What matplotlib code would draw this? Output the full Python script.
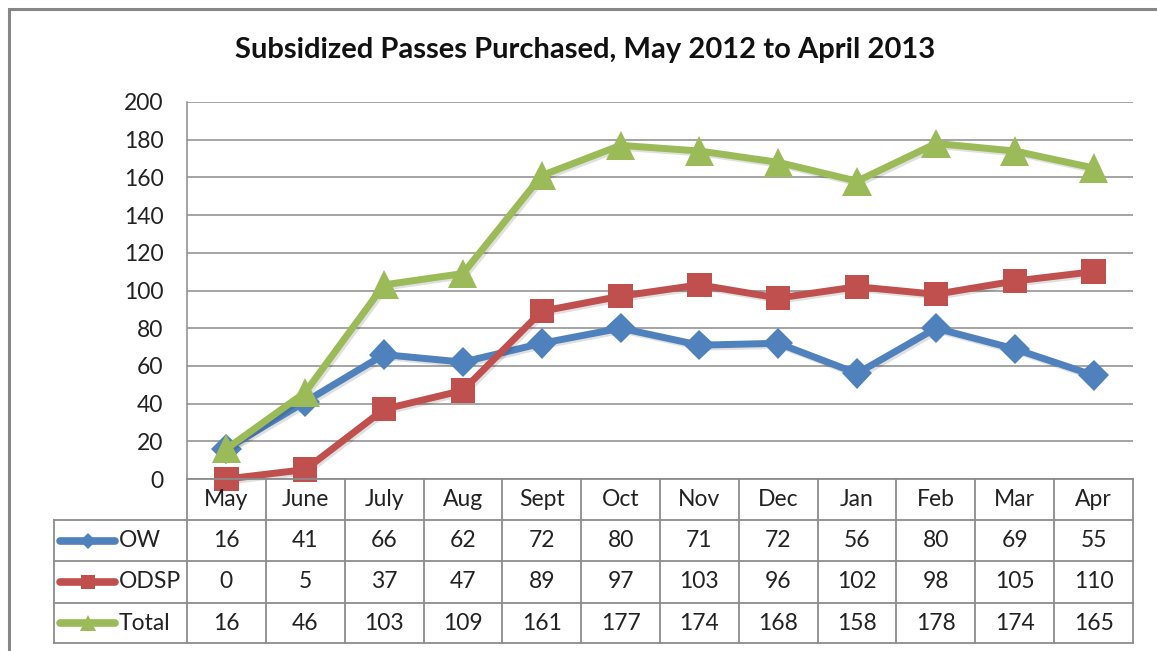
import matplotlib
matplotlib.use("Agg")
import matplotlib.pyplot as plt
import matplotlib.patheffects as pe
from matplotlib.lines import Line2D
from matplotlib.patches import Rectangle
from matplotlib.transforms import blended_transform_factory

plt.rcParams['font.family'] = ['Lato', 'DejaVu Sans']

months = ["May", "June", "July", "Aug", "Sept", "Oct", "Nov", "Dec", "Jan", "Feb", "Mar", "Apr"]
ow = [16, 41, 66, 62, 72, 80, 71, 72, 56, 80, 69, 55]
odsp = [0, 5, 37, 47, 89, 97, 103, 96, 102, 98, 105, 110]
total = [16, 46, 103, 109, 161, 177, 174, 168, 158, 178, 174, 165]

series_names = ["OW", "ODSP", "Total"]
series_values = [ow, odsp, total]
colors = ["#4F81BD", "#C0504D", "#9BBB59"]
markers = ["D", "s", "^"]
marker_sizes = [15.5, 17.5, 21]
legend_marker_sizes = [8.5, 10, 11.5]

W, H = 1157, 651
GRID = "#8C8C8C"
TXT = 16.5

fig = plt.figure(figsize=(W / 100, H / 100), dpi=100)


def fy(py):
    # pixel-from-top -> figure fraction
    return 1 - py / H


def fx(px):
    return px / W


# outer chart border
fig.patches.append(Rectangle((fx(9), fy(700)), fx(1200), fy(9) - fy(700),
                             transform=fig.transFigure, fill=False,
                             edgecolor="#878787", linewidth=2.2))

ax = fig.add_axes([fx(187), fy(479), fx(1133) - fx(187), fy(102) - fy(479)])
x = list(range(len(months)))

shadow = [pe.SimpleLineShadow(offset=(1.5, -1.5), alpha=0.12), pe.Normal()]
for vals, c, m, ms in zip(series_values, colors, markers, marker_sizes):
    ax.plot(x, vals, color=c, linewidth=5, marker=m, markersize=ms,
            markeredgewidth=0, solid_joinstyle="round", path_effects=shadow,
            clip_on=False, zorder=3)

ax.set_xlim(-0.5, len(months) - 0.5)
ax.set_ylim(0, 200)
ax.set_yticks(range(0, 201, 20))
ax.tick_params(axis="y", length=0, pad=17, labelsize=TXT, labelcolor="#222222")
ax.set_xticks([])
ax.grid(axis="y", color=GRID, linewidth=1.1)
ax.set_axisbelow(True)
for side in ["top", "right", "bottom"]:
    ax.spines[side].set_visible(False)
ax.spines["left"].set_color(GRID)
ax.spines["left"].set_linewidth(1.1)

# data table under the plot
tr = blended_transform_factory(ax.transData, fig.transFigure)
row_lines = [479, 520, 561, 603, 643]
header_y = (row_lines[0] + row_lines[1]) / 2
n = len(months)

# horizontal lines
fig.add_artist(Line2D([fx(187), fx(1133)], [fy(479), fy(479)], transform=fig.transFigure,
                      color=GRID, linewidth=1.3))
for py in row_lines[1:]:
    fig.add_artist(Line2D([fx(54), fx(1133)], [fy(py), fy(py)], transform=fig.transFigure,
                          color=GRID, linewidth=1.3))
# vertical lines
for i in range(n + 1):
    fig.add_artist(Line2D([i - 0.5, i - 0.5], [fy(479), fy(643)], transform=tr,
                          color=GRID, linewidth=1.3))
fig.add_artist(Line2D([fx(54), fx(54)], [fy(520), fy(643)], transform=fig.transFigure,
                      color=GRID, linewidth=1.3))

for i, mth in enumerate(months):
    fig.text(i, fy(header_y), mth, transform=tr, ha="center", va="center",
             fontsize=TXT, color="#222222")

for r, (name, vals, c, m, lms) in enumerate(zip(series_names, series_values, colors,
                                                 markers, legend_marker_sizes)):
    yc = fy((row_lines[r + 1] + row_lines[r + 2]) / 2)
    for i, v in enumerate(vals):
        fig.text(i, yc, str(v), transform=tr, ha="center", va="center",
                 fontsize=TXT, color="#222222")
    fig.add_artist(Line2D([fx(60), fx(115)], [yc, yc], transform=fig.transFigure,
                          color=c, linewidth=5.5, solid_capstyle="round"))
    fig.add_artist(Line2D([fx(88)], [yc], transform=fig.transFigure, color=c,
                          marker=m, markersize=lms, markeredgewidth=0))
    fig.text(fx(119), yc, name, ha="left", va="center", fontsize=TXT, color="#222222")

fig.text(fx(585), fy(50), "Subsidized Passes Purchased, May 2012 to April 2013",
         ha="center", va="center", fontsize=21, fontweight="bold", color="#111111")

fig.savefig("out.png", dpi=100)
